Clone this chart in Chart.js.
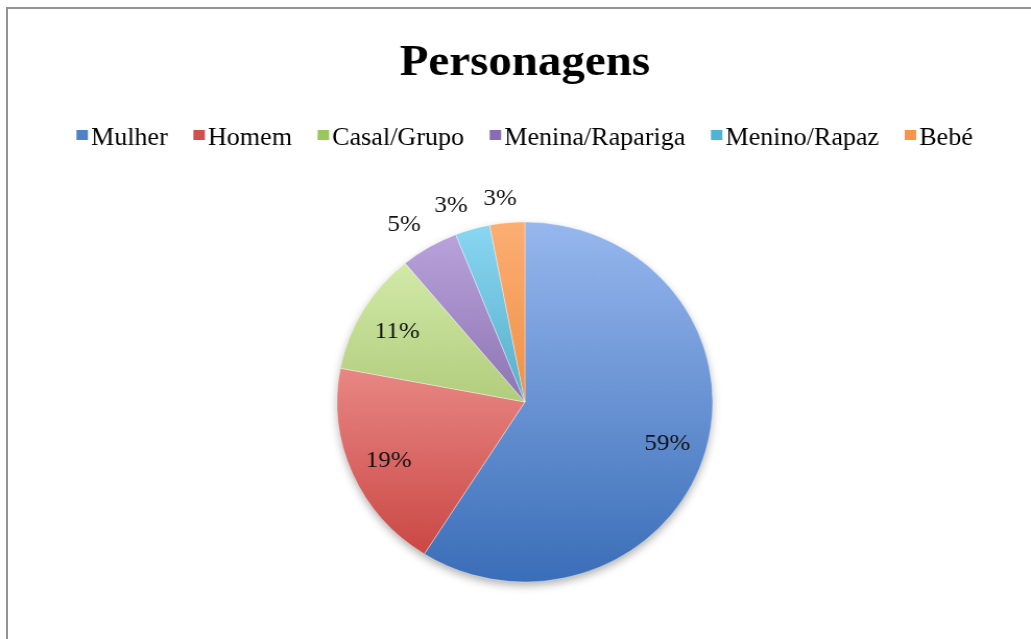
<!DOCTYPE html>
<html>
<head>
<meta charset="utf-8">
<title>Personagens</title>
<script src="https://cdn.jsdelivr.net/npm/chart.js"></script>
<style>
  html, body { margin: 0; padding: 0; background: #fff; overflow: hidden; }
  #frame { position: absolute; left: 6px; top: 7px; width: 1040px; height: 650px; border: 2px solid #939393; box-sizing: border-box; pointer-events: none; }
  /* the original picture is a little stretched sideways */
  #wrap { position: absolute; left: 0; top: 0; width: 988px; height: 639px; transform: scaleX(1.0435); transform-origin: 0 0; }
</style>
</head>
<body>
<div id="wrap"><canvas id="pie"></canvas></div>
<div id="frame"></div>
<script>
// ---- data
const categories = ['Mulher', 'Homem', 'Casal/Grupo', 'Menina/Rapariga', 'Menino/Rapaz', 'Bebé'];
const percentages = [59, 19, 11, 5, 3, 3];

// ---- colours (light at top of pie, dark at bottom)
const topColors    = ['#97b7ee', '#ffb9b6', '#dcf2b6', '#bca6de', '#8ad7f2', '#fcae73'];
const bottomColors = ['#3a6eb8', '#c63e3b', '#86a842', '#5f4288', '#2486a4', '#e2741d'];
const legendColors = ['#4f81c6', '#d0504e', '#9bc65a', '#8a6bb5', '#4db4d4', '#f79646'];

const RADIUS = 180;
const SERIF = "'Liberation Serif', 'Times New Roman', serif";

function sliceGradient(context) {
  const chart = context.chart;
  const area = chart.chartArea;
  if (!area) return topColors[context.dataIndex];
  const cy = (area.top + area.bottom) / 2;
  const g = chart.ctx.createLinearGradient(0, cy - RADIUS, 0, cy + RADIUS);
  g.addColorStop(0, topColors[context.dataIndex]);
  g.addColorStop(1, bottomColors[context.dataIndex]);
  return g;
}

// small legend squares, drawn a bit to the right of the point so the text sits close
function legendSquare(color) {
  const c = document.createElement('canvas');
  c.width = 22;
  c.height = 20;
  const g = c.getContext('2d');
  g.fillStyle = color;
  g.fillRect(10, 2, 11, 10);
  return c;
}

// soft shadow under the whole pie
const pieShadow = {
  id: 'pieShadow',
  beforeDatasetsDraw(chart) {
    const arc = chart.getDatasetMeta(0).data[0];
    if (!arc) return;
    const ctx = chart.ctx;
    ctx.save();
    ctx.shadowColor = 'rgba(0,0,0,0.35)';
    ctx.shadowBlur = 10;
    ctx.shadowOffsetY = 4;
    ctx.fillStyle = '#ffffff';
    ctx.beginPath();
    ctx.arc(arc.x, arc.y, arc.outerRadius - 1, 0, Math.PI * 2);
    ctx.fill();
    ctx.restore();
  }
};

// percentage labels: inside for big slices, outside (box pushed outward) for small ones
const pctLabels = {
  id: 'pctLabels',
  afterDatasetsDraw(chart) {
    const ctx = chart.ctx;
    const meta = chart.getDatasetMeta(0);
    const clamp = v => Math.max(-1, Math.min(1, v * 3.6));
    ctx.save();
    ctx.font = '24px ' + SERIF;
    ctx.fillStyle = '#111';
    ctx.textAlign = 'center';
    ctx.textBaseline = 'middle';
    meta.data.forEach((arc, i) => {
      const text = percentages[i] + '%';
      const mid = (arc.startAngle + arc.endAngle) / 2;
      const dx = Math.cos(mid), dy = Math.sin(mid);
      let x, y;
      if (percentages[i] < 6) {
        const d = arc.outerRadius + 16;
        const w = ctx.measureText(text).width;
        x = arc.x + dx * d + w / 2 * clamp(dx);
        y = arc.y + dy * d + 8.5 * clamp(dy);
      } else {
        const d = arc.outerRadius * 0.79;
        x = arc.x + dx * d;
        y = arc.y + dy * d + 2;
      }
      ctx.fillText(text, x, y);
    });
    ctx.restore();
  }
};

new Chart(document.getElementById('pie'), {
  type: 'pie',
  data: {
    labels: categories,
    datasets: [{
      data: percentages,
      backgroundColor: sliceGradient,
      borderColor: 'rgba(255,255,255,0.35)',
      borderWidth: 1,
    }]
  },
  options: {
    responsive: true,
    maintainAspectRatio: false,
    animation: false,
    radius: RADIUS,
    layout: { padding: { left: 18, right: 0, top: 0, bottom: 0 } },
    plugins: {
      title: {
        display: true,
        text: 'Personagens',
        color: '#000',
        font: { family: SERIF, size: 45, weight: 'bold' },
        padding: { top: 36, bottom: 10.5 }
      },
      // empty subtitle below the legend, only used as a spacer
      subtitle: {
        display: true,
        text: '',
        weight: 500,
        font: { size: 1, lineHeight: 1 },
        padding: { top: 3.5, bottom: 0 }
      },
      legend: {
        position: 'top',
        labels: {
          color: '#111',
          font: { family: SERIF, size: 25 },
          usePointStyle: true,
          boxWidth: 1,
          boxHeight: 10,
          padding: 25,
          generateLabels: (chart) => categories.map((c, i) => ({
            text: c,
            fillStyle: legendColors[i],
            strokeStyle: legendColors[i],
            lineWidth: 0,
            pointStyle: legendSquare(legendColors[i]),
            hidden: false,
            index: i
          }))
        }
      },
      tooltip: { enabled: false }
    }
  },
  plugins: [pieShadow, pctLabels]
});
</script>
</body>
</html>
